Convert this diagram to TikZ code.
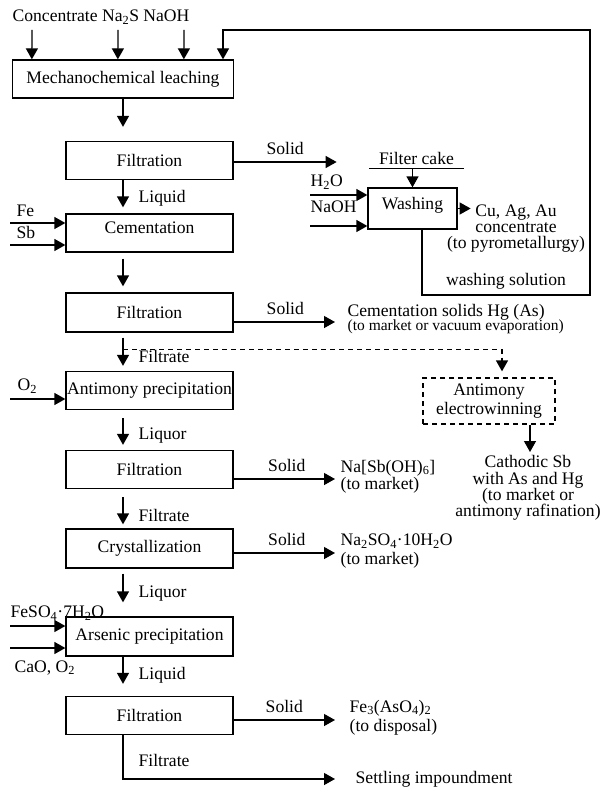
\documentclass[tikz,border=0pt]{standalone}
\usepackage{fontspec}
\setmainfont{Liberation Serif}
\usetikzlibrary{arrows.meta,positioning}

\begin{document}
\begin{tikzpicture}[
  x=1pt, y=-1pt, >={Triangle[length=11pt,width=12pt]}, line width=1.3pt,
  every node/.style={font=\fontsize{17.6}{16.2}\selectfont, inner sep=0pt},
  box/.style={draw, minimum width=167pt, minimum height=38pt, align=center},
  small/.style={font=\fontsize{15.5}{15}\selectfont}
]
  \useasboundingbox (0,0) rectangle (603,789);

  % main column
  \node[anchor=west] (feed) at (12,17) {Concentrate Na\textsubscript{2}S NaOH};
  \node[box, minimum width=221pt] (leach) at (123,79) {Mechanochemical leaching};
  \node[box] (filt1) at (149.5,160.5) {Filtration};
  \node[box, text depth=10pt] (cem) at (149.5,233) {Cementation};
  \node[box, minimum height=39pt] (filt2) at (149.5,312.5) {Filtration};
  \node[box] (sbprec) at (149.5,390.5) {Antimony precipitation};
  \node[box] (filt3) at (149.5,469.5) {Filtration};
  \node[box, minimum height=39pt] (cryst) at (149.5,548.5) {Crystallization};
  \node[box, minimum height=39pt] (asprec) at (149.5,636.5) {Arsenic precipitation};
  \node[box] (filt4) at (149.5,715.5) {Filtration};

  % side branch
  \node[box, minimum width=89pt, minimum height=41pt, text depth=11pt] (wash) at (412.5,208.5) {Washing};
  \node[box, dashed, dash pattern=on 5pt off 4pt, minimum width=132pt, minimum height=46pt,
        font=\fontsize{17.6}{19}\selectfont] (elwin) at (489,401) {Antimony\\electrowinning};
  \node[minimum width=93pt, inner ysep=4pt] (cake) at (416.5,158) {Filter cake};

  % products
  \node[align=center, anchor=north] (cuag) at (516,204) {Cu, Ag, Au\\concentrate\\(to pyrometallurgy)};
  \node (washsol) at (506,281) {washing solution};
  \node[anchor=west] (hgsol) at (347,312) {Cementation solids Hg (As)};
  \node[small, anchor=west] (hgnote) at (347,327) {(to market or vacuum evaporation)};
  \node[align=center, anchor=north] (cathsb) at (528,455) {Cathodic Sb\\with As and Hg\\(to market or\\antimony rafination)};
  \node[anchor=west] (nasb) at (340,468) {Na[Sb(OH)\textsubscript{6}]};
  \node[anchor=west] (nasbnote) at (340,485) {(to market)};
  \node[anchor=west] (glauber) at (340,541) {Na\textsubscript{2}SO\textsubscript{4}·10H\textsubscript{2}O};
  \node[anchor=west] (glaubnote) at (340,560) {(to market)};
  \node[anchor=west] (feas) at (349,708) {Fe\textsubscript{3}(AsO\textsubscript{4})\textsubscript{2}};
  \node[anchor=west] (feasnote) at (349,727) {(to disposal)};
  \node[anchor=west] (settle) at (355,779) {Settling impoundment};

  % feeds
  \foreach \dx in {20,106,172}
    \draw[->, shorten <=5pt] ([xshift=\dx pt]feed.south west) -- ([xshift=\dx pt]leach.north west);
  \coordinate (fein) at (10,223);
  \coordinate (sbin) at (10,245);
  \coordinate (o2in) at (10,399);
  \coordinate (fesoin) at (10,626);
  \coordinate (caoin) at (10,648);
  \coordinate (h2oin) at (310,195);
  \coordinate (naohin) at (310,226);
  \draw[->] (fein) -- (fein -| cem.west);
  \draw[->] (sbin) -- (sbin -| cem.west);
  \draw[->] (o2in) -- (o2in -| sbprec.west);
  \draw[->] (fesoin) -- (fesoin -| asprec.west);
  \draw[->] (caoin) -- (caoin -| asprec.west);
  \draw[->] (h2oin) -- (h2oin -| wash.west);
  \draw[->] (naohin) -- (naohin -| wash.west);
  \node[anchor=south west] (fe) at ([xshift=6pt,yshift=6pt]fein) {Fe};
  \node[anchor=north west] (sb) at ([xshift=6pt,yshift=-3pt]fein) {Sb};
  \node[anchor=south west] (o2) at ([xshift=7pt,yshift=5pt]o2in) {O\textsubscript{2}};
  \node[anchor=south west] (feso) at ([yshift=5pt]fesoin) {FeSO\textsubscript{4}·7H\textsubscript{2}O};
  \node[anchor=north west] (cao) at ([xshift=4pt,yshift=-12pt]caoin) {CaO, O\textsubscript{2}};
  \node[anchor=south west] (h2o) at ([yshift=5pt]h2oin) {H\textsubscript{2}O};
  \node[anchor=north west] (naoh) at ([yshift=-5pt]h2oin) {NaOH};

  % flow down the column
  \draw[->] (leach.south) -- ([xshift=-26.5pt,yshift=14pt]filt1.north);
  \foreach \a/\b/\s/\e/\lbl in {filt1/cem/0/6/Liquid, cem/filt2/6/6/,
      filt2/sbprec/5/5/Filtrate, sbprec/filt3/8/5/Liquor, filt3/cryst/8/4/Filtrate,
      cryst/asprec/5/14/Liquor, asprec/filt4/0/12/Liquid}
    \draw[->] ([xshift=-26.5pt,yshift=-\s pt]\a.south) -- ([xshift=-26.5pt,yshift=\e pt]\b.north)
      node[pos=1, anchor=west, xshift=15pt, yshift=9pt] {\lbl};

  % solids
  \draw[->] ([yshift=-1.5pt]filt1.east) -- ++(103,0) node[midway, above=7pt] {Solid};
  \draw[->, shorten >=12pt] ([yshift=-9.5pt]filt2.east) -- ([yshift=-9.5pt]filt2.east -| hgsol.west)
    node[midway, above=7pt, xshift=-5pt] {Solid};
  \draw[->, shorten >=5pt] ([yshift=-9.5pt]filt3.east) -- ([yshift=-9.5pt]filt3.east -| nasb.west)
    node[midway, above=7pt] {Solid};
  \draw[->, shorten >=5pt] ([yshift=-4.5pt]cryst.east) -- ([yshift=-4.5pt]cryst.east -| glauber.west)
    node[midway, above=7pt] {Solid};
  \draw[->, shorten >=14pt] ([yshift=-4.5pt]filt4.east) -- ([yshift=-4.5pt]filt4.east -| feas.west)
    node[midway, above=7pt, xshift=-7pt] {Solid};

  % washing
  \draw (cake.south west) -- (cake.south east);
  \draw[->] (cake.south -| wash.north) -- (wash.north);
  \draw[->] (wash.east) -- ++(13,0);
  \coordinate (loopbot) at (590,295);
  \coordinate (looptop) at (590,30);
  \draw[->] ([xshift=9.5pt]wash.south) |- (loopbot) -- (looptop) -| ([xshift=100pt]leach.north);

  % electrowinning
  \draw[->, dash pattern=on 5pt off 4pt, shorten >=6pt]
    ([xshift=-26.5pt,yshift=-17pt]filt2.south) -| ([xshift=13pt]elwin.north);
  \draw[->, shorten >=3pt] ([xshift=41pt]elwin.south) -- ([xshift=41pt]elwin.south |- cathsb.north);

  % to settling
  \draw[->] ([xshift=-26.5pt]filt4.south) |- ([xshift=-20pt]settle.west)
    node[pos=0.29, anchor=west, xshift=15pt] {Filtrate};
\end{tikzpicture}
\end{document}
